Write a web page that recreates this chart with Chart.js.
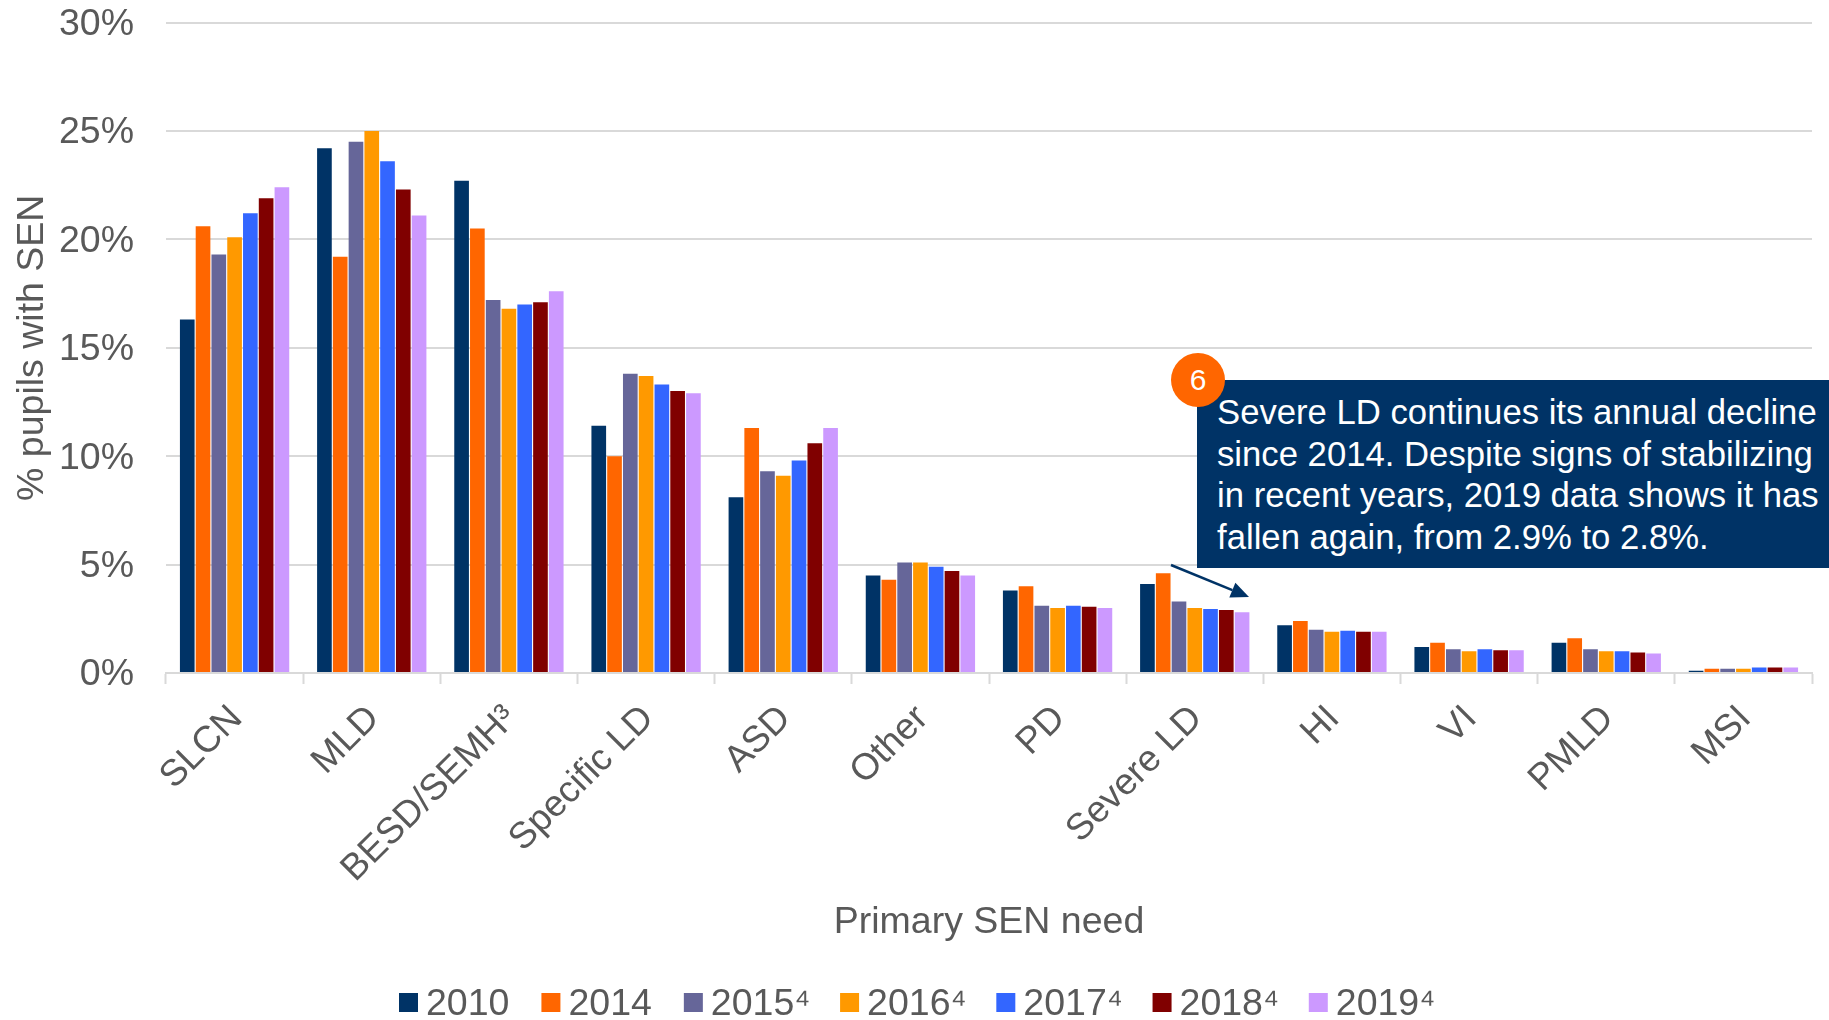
<!DOCTYPE html>
<html>
<head>
<meta charset="utf-8">
<style>
html,body{margin:0;padding:0;background:#fff;width:1829px;height:1020px;overflow:hidden}
#wrap{position:relative;width:1829px;height:1020px}
canvas{position:absolute;left:0;top:0}
#note{position:absolute;left:1197px;top:380px;width:632px;height:188px;background:#003366;color:#fff;
font:34.7px/41.5px "Liberation Sans",Arial,sans-serif;box-sizing:border-box;padding:12px 0 0 20px;white-space:nowrap}
#badge{position:absolute;left:1171px;top:353px;width:54px;height:54px;border-radius:50%;background:#FF6600;color:#fff;
font:30px/54px "Liberation Sans",Arial,sans-serif;text-align:center}
</style>
</head>
<body>
<div id="wrap">
<canvas id="c" width="1829" height="1020"></canvas>
<div id="note">Severe LD continues its annual decline<br>since 2014. Despite signs of stabilizing<br>in recent years, 2019 data shows it has<br>fallen again, from 2.9% to 2.8%.</div>
<div id="badge">6</div>
</div>
<script src="https://cdn.jsdelivr.net/npm/chart.js@4"></script>
<script>
const categories = ["SLCN","MLD","BESD/SEMH³","Specific LD","ASD","Other","PD","Severe LD","HI","VI","PMLD","MSI"];
const y2010  = [16.3,24.2,22.7,11.4,8.1,4.5,3.8,4.1,2.2,1.2,1.4,0.1];
const y2014  = [20.6,19.2,20.5,10.0,11.3,4.3,4.0,4.6,2.4,1.4,1.6,0.2];
const y2015  = [19.3,24.5,17.2,13.8,9.3,5.1,3.1,3.3,2.0,1.1,1.1,0.2];
const y2016  = [20.1,25.0,16.8,13.7,9.1,5.1,3.0,3.0,1.9,1.0,1.0,0.2];
const y2017  = [21.2,23.6,17.0,13.3,9.8,4.9,3.1,2.95,1.95,1.1,1.0,0.25];
const y2018  = [21.9,22.3,17.1,13.0,10.6,4.7,3.05,2.9,1.9,1.05,0.95,0.25];
const y2019  = [22.4,21.1,17.6,12.9,11.3,4.5,3.0,2.8,1.9,1.05,0.9,0.25];
const seriesNames = ["2010","2014","2015⁴","2016⁴","2017⁴","2018⁴","2019⁴"];
const seriesValues = [y2010,y2014,y2015,y2016,y2017,y2018,y2019];
const seriesColors = ["#003366","#FF6600","#666699","#FF9900","#3366FF","#800000","#CC99FF"];

const FONT = '"Liberation Sans", Arial, sans-serif';
const TEXT = "#595959", GRID = "#D9D9D9";
const AREA_LEFT = 166, AREA_BOTTOM = 673, LEGEND_SPACE = 75;

const arrowPlugin = {
  id: "arrow",
  afterDatasetsDraw(chart) {
    const c = chart.ctx, x0 = 1171, y0 = 565, x1 = 1249, y1 = 597;
    const a = Math.atan2(y1 - y0, x1 - x0), L = 18, W = 8;
    const bx = x1 - L * Math.cos(a), by = y1 - L * Math.sin(a);
    c.save();
    c.strokeStyle = c.fillStyle = "#003366";
    c.lineWidth = 2.5;
    c.beginPath(); c.moveTo(x0, y0); c.lineTo(bx, by); c.stroke();
    c.beginPath(); c.moveTo(x1, y1);
    c.lineTo(bx - W * Math.sin(a), by + W * Math.cos(a));
    c.lineTo(bx + W * Math.sin(a), by - W * Math.cos(a));
    c.closePath(); c.fill();
    c.restore();
  }
};

const legendPlugin = {
  id: "tightLegend",
  afterDraw(chart) {
    const c = chart.ctx;
    c.save();
    c.font = "37.5px " + FONT;
    c.textBaseline = "middle";
    c.textAlign = "left";
    let x = 399;
    chart.data.datasets.forEach(d => {
      c.fillStyle = d.backgroundColor;
      c.fillRect(x, 993, 19, 19);
      c.fillStyle = TEXT;
      c.fillText(d.label, x + 27, 1005);
      x += 27 + c.measureText(d.label).width + (d.label.length > 4 ? 29.7 : 32);
    });
    c.restore();
  }
};

new Chart(document.getElementById("c"), {
  type: "bar",
  data: {
    labels: categories,
    datasets: seriesNames.map((n, i) => ({
      label: n, data: seriesValues[i], backgroundColor: seriesColors[i],
      categoryPercentage: 0.805, barPercentage: 0.93
    }))
  },
  plugins: [arrowPlugin, legendPlugin],
  options: {
    responsive: false, animation: false, devicePixelRatio: 1,
    layout: { padding: { top: 0, right: 17, left: 0, bottom: LEGEND_SPACE } },
    plugins: {
      tooltip: { enabled: false },
      legend: { display: false }
    },
    scales: {
      x: {
        offset: true,
        grid: { drawOnChartArea: false, drawTicks: true, tickColor: GRID, tickLength: 11, tickWidth: 2, offset: true },
        border: { color: GRID, width: 2 },
        ticks: { color: TEXT, font: { family: FONT, size: 37 }, maxRotation: 45, minRotation: 45, padding: 13, labelOffset: 2, autoSkip: false },
        title: { display: true, text: "Primary SEN need", color: TEXT, font: { family: FONT, size: 37.5 }, padding: { top: 10, bottom: 0 } },
        afterFit(s) { s.height = 1020 - AREA_BOTTOM - LEGEND_SPACE; }
      },
      y: {
        min: 0, max: 30,
        grid: { color: GRID, lineWidth: 2, drawTicks: true, tickLength: 32, tickColor: "rgba(0,0,0,0)" },
        border: { display: false },
        ticks: { stepSize: 5, color: TEXT, font: { family: FONT, size: 37.5 }, padding: 0, labelOffset: 2, callback: v => v + "%" },
        title: { display: true, text: "% pupils with SEN", color: TEXT, font: { family: FONT, size: 37.5 }, padding: { top: 10, bottom: 0 } },
        afterFit(s) { s.width = AREA_LEFT; }
      }
    }
  }
});
</script>
</body>
</html>
